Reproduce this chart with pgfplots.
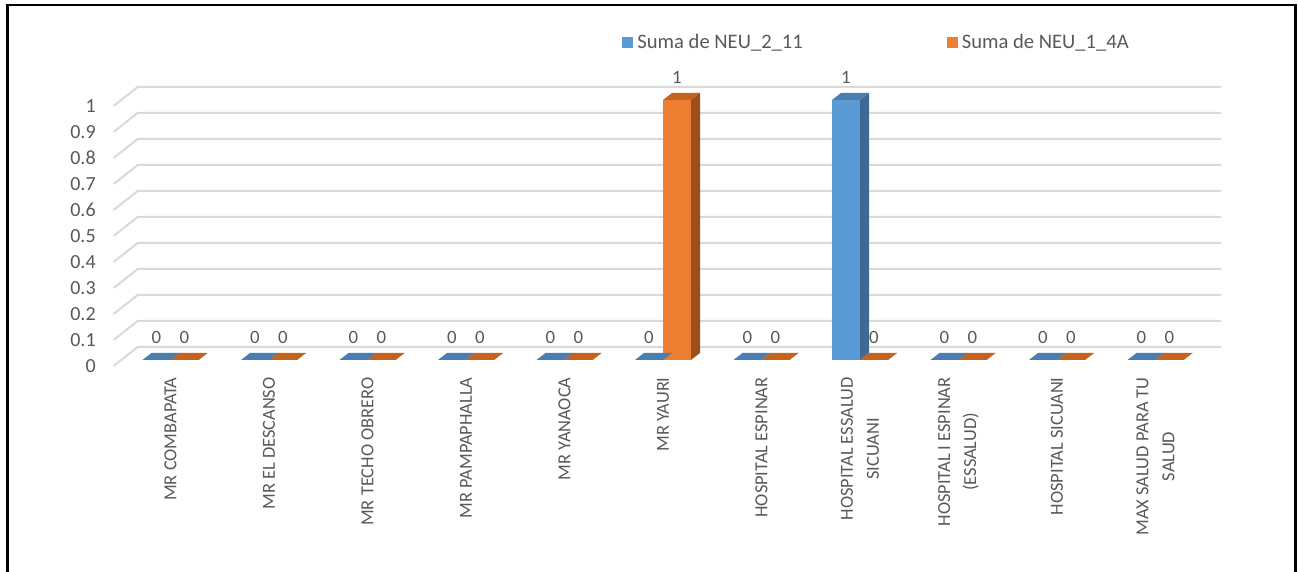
\documentclass[border=0pt]{standalone}
\usepackage{pgfplots}
\pgfplotsset{compat=1.18}
\usepackage{pgfplotstable}
\usepackage{fontspec}
\setmainfont{Carlito}

\definecolor{txt}{HTML}{595959}
\definecolor{gridc}{HTML}{D9D9D9}
\definecolor{bluF}{HTML}{5B9BD5}
\definecolor{bluT}{HTML}{4A7EB1}
\definecolor{bluS}{HTML}{3E6992}
\definecolor{orgF}{HTML}{ED7D31}
\definecolor{orgT}{HTML}{C4621E}
\definecolor{orgS}{HTML}{9D4F1B}

% one row per establishment
\pgfplotstableread{
idx neu2 neu1
0   0    0
1   0    0
2   0    0
3   0    0
4   0    0
5   0    1
6   0    0
7   1    0
8   0    0
9   0    0
10  0    0
}\datatable

% depth (top and side faces) of a 3-D column; the mark sits at the top centre
% of the category, \barval is the column's value, 1 unit = 130pt
\pgfdeclareplotmark{cubeblue}{%
  \pgfmathsetlengthmacro\barh{\barval*130pt}%
  \pgfsetfillcolor{bluS}%
  \pgfpathmoveto{\pgfpoint{0pt}{0pt}}%
  \pgfpathlineto{\pgfpoint{4.5pt}{3.5pt}}%
  \pgfpathlineto{\pgfpoint{4.5pt}{3.5pt-\barh}}%
  \pgfpathlineto{\pgfpoint{0pt}{-\barh}}%
  \pgfpathclose
  \pgfusepath{fill}%
  \pgfsetfillcolor{bluT}%
  \pgfpathmoveto{\pgfpoint{-14pt}{0pt}}%
  \pgfpathlineto{\pgfpoint{0pt}{0pt}}%
  \pgfpathlineto{\pgfpoint{4.5pt}{3.5pt}}%
  \pgfpathlineto{\pgfpoint{-9.5pt}{3.5pt}}%
  \pgfpathclose
  \pgfusepath{fill}%
}
\pgfdeclareplotmark{cubeorange}{%
  \pgfmathsetlengthmacro\barh{\barval*130pt}%
  \pgfsetfillcolor{orgS}%
  \pgfpathmoveto{\pgfpoint{14pt}{0pt}}%
  \pgfpathlineto{\pgfpoint{18.5pt}{3.5pt}}%
  \pgfpathlineto{\pgfpoint{18.5pt}{3.5pt-\barh}}%
  \pgfpathlineto{\pgfpoint{14pt}{-\barh}}%
  \pgfpathclose
  \pgfusepath{fill}%
  \pgfsetfillcolor{orgT}%
  \pgfpathmoveto{\pgfpoint{0pt}{0pt}}%
  \pgfpathlineto{\pgfpoint{14pt}{0pt}}%
  \pgfpathlineto{\pgfpoint{18.5pt}{3.5pt}}%
  \pgfpathlineto{\pgfpoint{4.5pt}{3.5pt}}%
  \pgfpathclose
  \pgfusepath{fill}%
}

\pgfplotsset{
  sqlegend/.style={legend image code/.code={%
      \fill[##1] (0pt,-2.75pt) rectangle (5.5pt,2.75pt);}},
  % front face of a column: #1 colour, #2 offset from the category centre
  frontbar/.style 2 args={ybar, bar width=14pt, bar shift=#2,
      draw=none, fill=#1,
      nodes near coords,
      nodes near coords style={font=\fontsize{9.4}{11}\selectfont,
        text=txt, anchor=south, inner sep=0pt, xshift=#2, yshift=8pt},
      sqlegend},
  depthfaces/.style={only marks, mark=#1, forget plot,
      visualization depends on={rawy \as \barval}},
}

\begin{document}
\begin{tikzpicture}
\path[use as bounding box] (0pt,0pt) rectangle (649pt,286pt);
\fill[white] (0pt,0pt) rectangle (649pt,286pt);

\begin{axis}[
  at={(60.625pt,106pt)}, anchor=south west,
  x=49.25pt, y=130pt,
  xmin=-0.5, xmax=10.5, ymin=0, ymax=1,
  enlargelimits=false, clip=false,
  axis line style={draw=none},
  major tick length=0pt, tick style={draw=none},
  /pgf/number format/assume math mode=true,
  ytick={0,0.1,0.2,0.3,0.4,0.5,0.6,0.7,0.8,0.9,1},
  yticklabels={0,0.1,0.2,0.3,0.4,0.5,0.6,0.7,0.8,0.9,1},
  yticklabel shift=12.6pt,
  yticklabel style={font=\fontsize{10}{12}\selectfont, text=txt,
    inner sep=0pt, anchor=east, yshift=-3pt},
  xtick={0,1,2,3,4,5,6,7,8,9,10},
  xticklabels={MR COMBAPATA, MR EL DESCANSO, MR TECHO OBRERO,
    MR PAMPAPHALLA, MR YANAOCA, MR YAURI, HOSPITAL ESPINAR,
    {HOSPITAL ESSALUD\\SICUANI}, {HOSPITAL I ESPINAR\\(ESSALUD)},
    HOSPITAL SICUANI, {MAX SALUD PARA TU\\SALUD}},
  xticklabel shift=8.5pt,
  xticklabel style={font=\fontsize{9.2}{13}\selectfont, text=txt,
    inner sep=0pt, rotate=90, anchor=east, align=center},
  legend columns=2,
  legend cell align=left,
  legend style={at={(0.4622,1.2212)}, anchor=west, draw=none, fill=none,
    inner sep=0pt, font=\fontsize{10.3}{12}\selectfont, text=txt,
    /tikz/every even column/.append style={column sep=70pt}},
]
% back wall and left side wall grid
\pgfplotsinvokeforeach{0,0.1,0.2,0.3,0.4,0.5,0.6,0.7,0.8,0.9,1}{
  \draw[gridc, line width=1pt]
    ([shift={(-3.8pt,-3pt)}]axis cs:-0.5,#1)
    -- ([shift={(8.2pt,6.5pt)}]axis cs:-0.5,#1)
    -- ([shift={(8.2pt,6.5pt)}]axis cs:10.5,#1);
}

\addplot[frontbar={bluF}{-7pt}] table[x=idx, y=neu2] {\datatable};
\addlegendentry{Suma de NEU\_2\_11}
\addplot[depthfaces=cubeblue] table[x=idx, y=neu2] {\datatable};

\addplot[frontbar={orgF}{7pt}] table[x=idx, y=neu1] {\datatable};
\addlegendentry{Suma de NEU\_1\_4A}
\addplot[depthfaces=cubeorange] table[x=idx, y=neu1] {\datatable};
\end{axis}

% chart frame
\draw[black, line width=1.25pt]
  (3.75pt,-5pt) -- (3.75pt,283.5pt) -- (647.75pt,283.5pt) -- (647.75pt,-5pt);
\end{tikzpicture}
\end{document}
